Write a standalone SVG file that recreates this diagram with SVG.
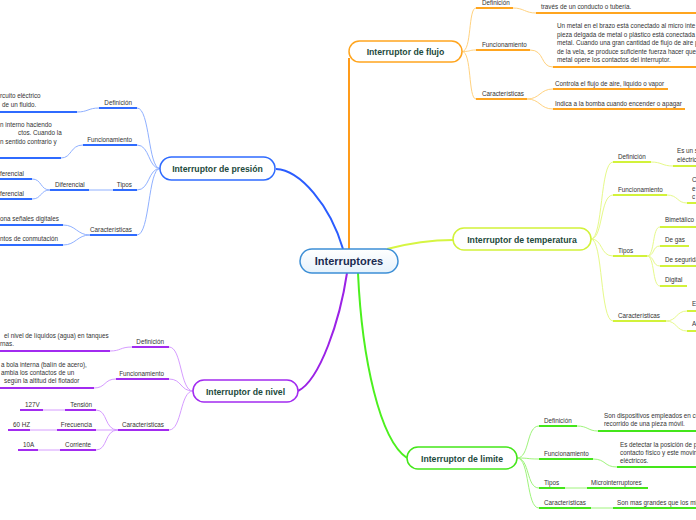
<svg xmlns="http://www.w3.org/2000/svg" width="696" height="520" viewBox="0 0 696 520">
<defs>
<linearGradient id="cg" x1="0" y1="0" x2="0" y2="1"><stop offset="0" stop-color="#ffffff"/><stop offset="1" stop-color="#e6f2fb"/></linearGradient>
<style>
.t{font-family:"Liberation Sans",Arial,sans-serif;font-size:6.3px;fill:#333}
.e{text-anchor:end}
.nt{font-family:"Liberation Sans",Arial,sans-serif;font-weight:bold;font-size:8.7px;fill:#1d4a3c;text-anchor:middle}
.ct{font-family:"Liberation Sans",Arial,sans-serif;font-weight:bold;font-size:11px;fill:#1a2b50;text-anchor:middle}
path,line{fill:none}
.lo{stroke:#ffd27f;stroke-width:1}.so{stroke:#ffa51f;stroke-width:2}
.ll{stroke:#e6f98a;stroke-width:1}.sl{stroke:#d2f23a;stroke-width:2}
.lb{stroke:#8fb0ff;stroke-width:1}.sb{stroke:#2f6bff;stroke-width:2}
.lp{stroke:#d69cff;stroke-width:1}.sp{stroke:#a22bf0;stroke-width:2}
.lg{stroke:#9ff47c;stroke-width:1}.sg{stroke:#44e61a;stroke-width:2}
.box{fill:#fff;stroke-width:1.5}
</style>
</defs>
<rect width="696" height="520" fill="#fff"/>

<g id="connectors">
<!-- central -->
<path d="M349,249 L349,58" stroke="#ff9b1a" stroke-width="2"/>
<path d="M276,169 C300,170 330,205 343,249" stroke="#2a5cff" stroke-width="2"/>
<path d="M387,249 C410,243 430,240 453,240" stroke="#d6f542" stroke-width="2"/>
<path d="M347,273 C340,320 320,380 298,391" stroke="#9b22e6" stroke-width="2"/>
<path d="M358,273 C362,360 380,440 407,458" stroke="#4cf01e" stroke-width="2"/>

<!-- flujo -->
<path class="lo" d="M462,51.5 C472,51.5 468,8 476,8"/>
<path class="lo" d="M462,51.5 C472,51.5 468,50 476,50"/>
<path class="lo" d="M462,51.5 C472,51.5 468,99 476,99"/>
<line class="so" x1="476" y1="8" x2="513" y2="8"/>
<line class="so" x1="476" y1="50" x2="530" y2="50"/>
<line class="so" x1="476" y1="99" x2="527" y2="99"/>
<path class="lo" d="M513,8 C524,8 525,13 536,13"/>
<line class="so" x1="536" y1="13" x2="696" y2="13"/>
<path class="lo" d="M530,50 C545,50 540,67 553,67"/>
<line class="so" x1="553" y1="67" x2="696" y2="67"/>
<path class="lo" d="M527,99 C540,99 540,89 553,89"/>
<path class="lo" d="M527,99 C540,99 540,109 553,109"/>
<line class="so" x1="553" y1="89" x2="668" y2="89"/>
<line class="so" x1="553" y1="109" x2="685" y2="109"/>

<!-- temperatura -->
<path class="ll" d="M591,239 C603,239 600,162 613,162"/>
<path class="ll" d="M591,239 C603,239 600,195 613,195"/>
<path class="ll" d="M591,239 C603,239 600,256 613,256"/>
<path class="ll" d="M591,239 C603,239 600,321 613,321"/>
<line class="sl" x1="613" y1="162" x2="651" y2="162"/>
<line class="sl" x1="613" y1="195" x2="667" y2="195"/>
<line class="sl" x1="613" y1="256" x2="647" y2="256"/>
<line class="sl" x1="613" y1="321" x2="666" y2="321"/>
<path class="ll" d="M651,162 C662,162 662,166 673,166"/>
<line class="sl" x1="673" y1="166" x2="696" y2="166"/>
<path class="ll" d="M667,195 C678,195 677,203 687,203"/>
<line class="sl" x1="687" y1="203" x2="696" y2="203"/>
<path class="ll" d="M647,256 C655,256 652,227 660,227"/>
<path class="ll" d="M647,256 C655,256 652,246 660,246"/>
<path class="ll" d="M647,256 C655,256 652,266 660,266"/>
<path class="ll" d="M647,256 C655,256 652,286 660,286"/>
<line class="sl" x1="660" y1="227" x2="696" y2="227"/>
<line class="sl" x1="660" y1="246" x2="689" y2="246"/>
<line class="sl" x1="660" y1="266" x2="696" y2="266"/>
<line class="sl" x1="660" y1="286" x2="687" y2="286"/>
<path class="ll" d="M666,321 C677,321 676,311 687,311"/>
<path class="ll" d="M666,321 C677,321 676,331 687,331"/>
<line class="sl" x1="687" y1="311" x2="696" y2="311"/>
<line class="sl" x1="687" y1="331" x2="696" y2="331"/>

<!-- presion -->
<path class="lb" d="M160,168.5 C148,168.5 150,108 137,108"/>
<path class="lb" d="M160,168.5 C148,168.5 150,145 137,145"/>
<path class="lb" d="M160,168.5 C148,168.5 150,190 137,190"/>
<path class="lb" d="M160,168.5 C148,168.5 150,235 137,235"/>
<line class="sb" x1="99" y1="108" x2="137" y2="108"/>
<line class="sb" x1="83" y1="145" x2="137" y2="145"/>
<line class="sb" x1="113" y1="190" x2="137" y2="190"/>
<line class="sb" x1="90" y1="235" x2="137" y2="235"/>
<path class="lb" d="M99,108 C88,108 88,112 77,112"/>
<line class="sb" x1="0" y1="112" x2="77" y2="112"/>
<path class="lb" d="M83,145 C70,145 72,158 61,158"/>
<line class="sb" x1="0" y1="158" x2="61" y2="158"/>
<line class="lb" x1="89" y1="190" x2="113" y2="190"/>
<line class="sb" x1="50" y1="190" x2="89" y2="190"/>
<path class="lb" d="M50,190 C40,190 42,179 32,179"/>
<path class="lb" d="M50,190 C40,190 42,199 32,199"/>
<line class="sb" x1="0" y1="179" x2="32" y2="179"/>
<line class="sb" x1="0" y1="199" x2="32" y2="199"/>
<path class="lb" d="M90,235 C77,235 76,225 63,225"/>
<path class="lb" d="M90,235 C77,235 76,245 63,245"/>
<line class="sb" x1="0" y1="225" x2="63" y2="225"/>
<line class="sb" x1="0" y1="245" x2="63" y2="245"/>

<!-- nivel -->
<path class="lp" d="M193,391 C180,391 182,347 169,347"/>
<path class="lp" d="M193,391 C180,391 182,379 169,379"/>
<path class="lp" d="M193,391 C180,391 182,430 169,430"/>
<line class="sp" x1="132" y1="347" x2="169" y2="347"/>
<line class="sp" x1="116" y1="379" x2="169" y2="379"/>
<line class="sp" x1="118" y1="430" x2="169" y2="430"/>
<path class="lp" d="M132,347 C120,347 121,351 110,351"/>
<line class="sp" x1="0" y1="351" x2="110" y2="351"/>
<path class="lp" d="M116,379 C104,379 106,388 94,388"/>
<line class="sp" x1="0" y1="388" x2="94" y2="388"/>
<path class="lp" d="M118,430 C104,430 108,410 96,410"/>
<line class="lp" x1="96" y1="430" x2="118" y2="430"/>
<path class="lp" d="M118,430 C104,430 108,450 96,450"/>
<line class="sp" x1="65" y1="410" x2="96" y2="410"/>
<line class="sp" x1="57" y1="430" x2="96" y2="430"/>
<line class="sp" x1="60" y1="450" x2="96" y2="450"/>
<line class="lp" x1="43" y1="410" x2="65" y2="410"/>
<line class="lp" x1="30" y1="430" x2="57" y2="430"/>
<line class="lp" x1="38" y1="450" x2="60" y2="450"/>
<line class="sp" x1="20" y1="410" x2="43" y2="410"/>
<line class="sp" x1="8" y1="430" x2="30" y2="430"/>
<line class="sp" x1="18" y1="450" x2="38" y2="450"/>

<!-- limite -->
<path class="lg" d="M517,458 C530,458 526,426 539,426"/>
<path class="lg" d="M517,458 C530,458 526,459 539,459"/>
<path class="lg" d="M517,458 C530,458 526,488 539,488"/>
<path class="lg" d="M517,458 C530,458 526,508 539,508"/>
<line class="sg" x1="539" y1="426" x2="577" y2="426"/>
<line class="sg" x1="539" y1="459" x2="593" y2="459"/>
<line class="sg" x1="539" y1="488" x2="565" y2="488"/>
<line class="sg" x1="539" y1="508" x2="591" y2="508"/>
<path class="lg" d="M577,426 C588,426 588,431 598,431"/>
<line class="sg" x1="598" y1="431" x2="696" y2="431"/>
<path class="lg" d="M593,459 C606,459 604,467 617,467"/>
<line class="sg" x1="617" y1="467" x2="696" y2="467"/>
<line class="lg" x1="565" y1="488" x2="587" y2="488"/>
<line class="sg" x1="587" y1="488" x2="648" y2="488"/>
<line class="lg" x1="591" y1="508" x2="613" y2="508"/>
<line class="sg" x1="613" y1="508" x2="696" y2="508"/>
</g>

<g id="central">
<rect x="300" y="249" width="98" height="24" rx="12" fill="url(#cg)" stroke="#3d8fd6" stroke-width="1.5"/>
<text class="ct" x="349" y="265">Interruptores</text>
</g>

<g id="flujo">
<rect class="box" x="349" y="41" width="113" height="21" rx="10.5" stroke="#ffa51f"/>
<text class="nt" x="405.5" y="55">Interruptor de flujo</text>
</g>
<g id="flujo-def"><text class="t" x="482" y="4.5">Definición</text><text class="t" x="541" y="8.5">través de un conducto o tubería.</text></g>
<g id="flujo-func"><text class="t" x="482" y="46.5">Funcionamiento</text>
<text class="t" x="557" y="28">Un metal en el brazo está conectado al micro inte</text>
<text class="t" x="557" y="36.5">pieza delgada de metal o plástico está conectada</text>
<text class="t" x="557" y="45">metal. Cuando una gran cantidad de flujo de aire p</text>
<text class="t" x="557" y="53.5">de la vela, se produce suficiente fuerza hacer que</text>
<text class="t" x="557" y="62">metal opere los contactos del interruptor.</text></g>
<g id="flujo-car"><text class="t" x="482" y="95.5">Características</text>
<text class="t" x="555" y="85.5">Controla el flujo de aire, liquido o vapor</text>
<text class="t" x="555" y="105.5">Indica a la bomba cuando encender o apagar</text></g>

<g id="temperatura">
<rect class="box" x="453" y="228" width="138" height="22" rx="11" stroke="#d2f23a"/>
<text class="nt" x="522" y="242.5">Interruptor de temperatura</text>
</g>
<g id="temp-def"><text class="t" x="618" y="158.5">Definición</text><text class="t" x="677" y="153">Es un s</text><text class="t" x="677" y="161.5">eléctric</text></g>
<g id="temp-func"><text class="t" x="618" y="191.5">Funcionamiento</text><text class="t" x="692" y="182">C</text><text class="t" x="692" y="190.5">e</text><text class="t" x="692" y="199">c</text></g>
<g id="temp-tipos"><text class="t" x="618" y="252.5">Tipos</text>
<text class="t" x="665" y="222">Bimetálico</text>
<text class="t" x="665" y="241.5">De gas</text>
<text class="t" x="665" y="261.5">De segurida</text>
<text class="t" x="665" y="281.5">Digital</text></g>
<g id="temp-car"><text class="t" x="618" y="317.5">Características</text><text class="t" x="692" y="306">E</text><text class="t" x="692" y="326">A</text></g>

<g id="presion">
<rect class="box" x="160" y="157" width="115" height="23" rx="11.5" stroke="#2f6bff"/>
<text class="nt" x="217.5" y="172">Interruptor de presión</text>
</g>
<g id="pres-def"><text class="t e" x="132" y="104.5">Definición</text><text class="t" x="0" y="98">rcuito eléctrico</text><text class="t" x="2" y="106.5">de un fluido.</text></g>
<g id="pres-func"><text class="t e" x="132" y="141.5">Funcionamiento</text>
<text class="t" x="0" y="126.5">n interno haciendo</text>
<text class="t" x="18" y="135">ctos. Cuando la</text>
<text class="t" x="0" y="144">n sentido contrario y</text></g>
<g id="pres-tipos"><text class="t e" x="132" y="186.5">Tipos</text><text class="t" x="55" y="186.5">Diferencial</text>
<text class="t" x="0" y="175.5">ferencial</text><text class="t" x="0" y="195.5">ferencial</text></g>
<g id="pres-car"><text class="t e" x="132" y="231.5">Características</text>
<text class="t" x="0" y="220.5">ona señales digitales</text>
<text class="t" x="0" y="240.5">ntos de conmutación</text></g>

<g id="nivel">
<rect class="box" x="193" y="380" width="105" height="22" rx="11" stroke="#a22bf0"/>
<text class="nt" x="245.5" y="394.5">Interruptor de nivel</text>
</g>
<g id="niv-def"><text class="t e" x="164" y="343.5">Definición</text>
<text class="t" x="4" y="337.5">el nivel de líquidos (agua) en tanques</text>
<text class="t" x="0" y="345.5">rnas.</text></g>
<g id="niv-func"><text class="t e" x="164" y="375.5">Funcionamiento</text>
<text class="t" x="1" y="366.5">a bola interna (balín de acero),</text>
<text class="t" x="1" y="374.5">ambia los contactos de un</text>
<text class="t" x="4" y="383">según la altitud del flotador</text></g>
<g id="niv-car"><text class="t e" x="164" y="426.5">Características</text>
<text class="t e" x="92" y="406.5">Tensión</text><text class="t" x="25" y="406.5">127V</text>
<text class="t e" x="92" y="426.5">Frecuencia</text><text class="t" x="13" y="426.5">60 HZ</text>
<text class="t e" x="91" y="446.5">Corriente</text><text class="t" x="23" y="446.5">10A</text></g>

<g id="limite">
<rect class="box" x="407" y="447" width="110" height="22" rx="11" stroke="#44e61a"/>
<text class="nt" x="462" y="461.5">Interruptor de limite</text>
</g>
<g id="lim-def"><text class="t" x="544" y="422.5">Definición</text>
<text class="t" x="604" y="417.5">Son dispositivos empleados en co</text>
<text class="t" x="604" y="425.5">recorrido de una pieza móvil.</text></g>
<g id="lim-func"><text class="t" x="544" y="455.5">Funcionamiento</text>
<text class="t" x="620" y="447">Es  detectar la posición de p</text>
<text class="t" x="620" y="455">contacto físico y este movin</text>
<text class="t" x="620" y="463">eléctricos.</text></g>
<g id="lim-tipos"><text class="t" x="544" y="484.5">Tipos</text><text class="t" x="591" y="484.5">Microinterruptores</text></g>
<g id="lim-car"><text class="t" x="544" y="504.5">Características</text><text class="t" x="617" y="504.5">Son mas grandes que los mi</text></g>
</svg>
